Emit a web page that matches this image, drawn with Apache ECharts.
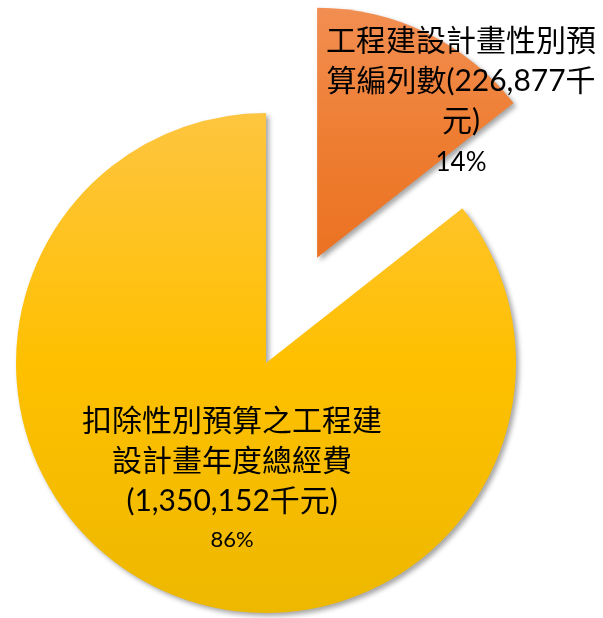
<!DOCTYPE html>
<html>
<head>
<meta charset="utf-8">
<script src="https://cdn.jsdelivr.net/npm/echarts@6/dist/echarts.min.js"></script>
<style>
  html, body { margin: 0; padding: 0; background: #fff; }
  #main { width: 603px; height: 618px; }
</style>
</head>
<body>
<div id="main"></div>
<script>
// 資料
var names = ['工程建設計畫性別預算編列數', '扣除性別預算之工程建設計畫年度總經費'];
var values = [226877, 1350152];
// 標籤文字(含換行)
var labelTexts = [
  '工程建設計畫性別預\n算編列數(226,877千\n元)',
  '扣除性別預算之工程建\n設計畫年度總經費\n(1,350,152千元)'
];
var topColors = ['#F28E52', '#FEC540'];
var midColors = ['#EE7E33', '#FFC000'];
var bottomColors = ['#EB7222', '#EDB800'];

var myCharts = echarts.init(document.getElementById('main'));

var dataList = [];
for (let i = 0; i < names.length; i++) {
  dataList.push({
    name: names[i],
    value: values[i],
    selected: i == 0,
    itemStyle: {
      color: new echarts.graphic.LinearGradient(0, 0, 0, 1, [
        { offset: 0, color: topColors[i] },
        { offset: 0.5, color: midColors[i] },
        { offset: 1, color: bottomColors[i] }
      ])
    }
  });
}

var fontStr = 'Lato, "Noto Sans CJK TC"';

var option = {
  animation: false,
  series: [{
    type: 'pie',
    center: [266, 363],
    radius: 250,
    startAngle: 90,
    clockwise: true,
    selectedMode: 'single',
    selectedOffset: 117,
    itemStyle: {
      shadowColor: 'rgba(0,0,0,0.35)',
      shadowBlur: 5,
      shadowOffsetX: 3,
      shadowOffsetY: 3
    },
    label: {
      show: true,
      position: 'inside',
      formatter: function (params) {
        var pctStyle = params.dataIndex == 0 ? 'c' : 'b';
        return '{a|' + labelTexts[params.dataIndex] + '}\n{' + pctStyle + '|' + Math.round(params.percent) + '%}';
      },
      rich: {
        a: {
          fontFamily: fontStr,
          fontSize: 30,
          lineHeight: 40,
          color: '#000'
        },
        b: {
          fontFamily: fontStr,
          fontSize: 22,
          lineHeight: 38,
          color: '#000'
        },
        c: {
          fontFamily: fontStr,
          fontSize: 26,
          lineHeight: 42,
          color: '#000'
        }
      }
    },
    labelLayout: function (params) {
      if (params.dataIndex == 0) {
        return { dx: 88, dy: -40 };
      }
      return { dx: 22, dy: 2 };
    },
    emphasis: { disabled: true },
    data: dataList
  }]
};
myCharts.setOption(option);
</script>
</body>
</html>
